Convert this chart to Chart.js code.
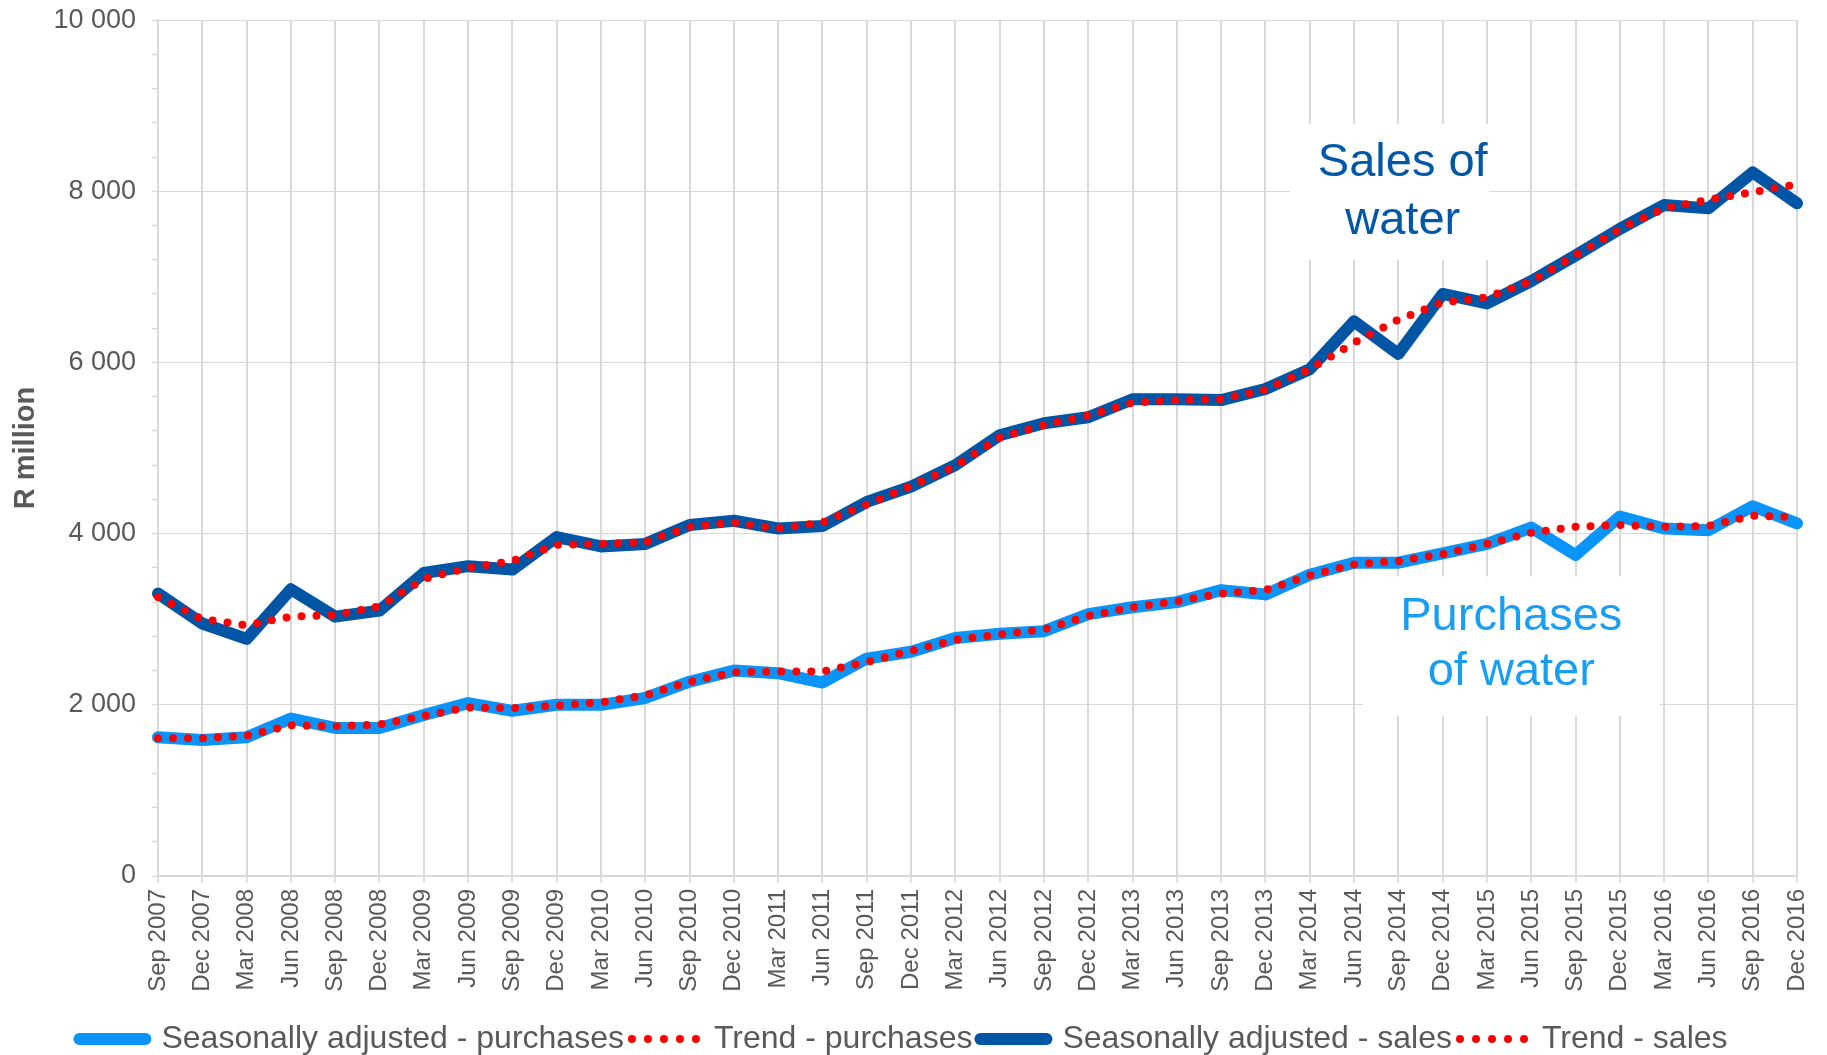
<!DOCTYPE html>
<html>
<head>
<meta charset="utf-8">
<title>Sales and purchases of water</title>
<script src="https://cdn.jsdelivr.net/npm/chart.js@4.4.1/dist/chart.umd.min.js"></script>
<style>
  body { margin: 0; background: #fff; }
  #wrap { width: 1827px; height: 1055px; position: relative; }
</style>
</head>
<body>
<div id="wrap"><canvas id="waterChart"></canvas></div>
<script>
// quarters on the x axis
var quarters = ['Sep 2007', 'Dec 2007',
  'Mar 2008', 'Jun 2008', 'Sep 2008', 'Dec 2008',
  'Mar 2009', 'Jun 2009', 'Sep 2009', 'Dec 2009',
  'Mar 2010', 'Jun 2010', 'Sep 2010', 'Dec 2010',
  'Mar 2011', 'Jun 2011', 'Sep 2011', 'Dec 2011',
  'Mar 2012', 'Jun 2012', 'Sep 2012', 'Dec 2012',
  'Mar 2013', 'Jun 2013', 'Sep 2013', 'Dec 2013',
  'Mar 2014', 'Jun 2014', 'Sep 2014', 'Dec 2014',
  'Mar 2015', 'Jun 2015', 'Sep 2015', 'Dec 2015',
  'Mar 2016', 'Jun 2016', 'Sep 2016', 'Dec 2016'];

// R million
var purchasesSA = [1620, 1590, 1620, 1840, 1730, 1730, 1880, 2020, 1930, 2000, 2000, 2080, 2270, 2400, 2370, 2260, 2540, 2620, 2780, 2830, 2860, 3060, 3140, 3200, 3340, 3290, 3520, 3660, 3660, 3770, 3880, 4070, 3750, 4200, 4060, 4040, 4320, 4120];
var purchasesTrend = [1610, 1610, 1640, 1760, 1750, 1770, 1870, 1970, 1960, 1990, 2030, 2110, 2270, 2380, 2390, 2390, 2500, 2630, 2760, 2820, 2880, 3040, 3140, 3210, 3300, 3340, 3510, 3640, 3680, 3760, 3880, 4010, 4080, 4100, 4080, 4090, 4210, 4190];
var salesSA = [3300, 2950, 2770, 3350, 3030, 3100, 3540, 3620, 3580, 3960, 3850, 3880, 4100, 4150, 4060, 4090, 4370, 4550, 4800, 5150, 5290, 5360, 5570, 5570, 5560, 5690, 5920, 6480, 6100, 6800, 6690, 6950, 7250, 7560, 7840, 7800, 8220, 7860];
var salesTrend = [3260, 3000, 2930, 3030, 3050, 3150, 3470, 3600, 3680, 3870, 3880, 3900, 4080, 4130, 4060, 4130, 4340, 4560, 4790, 5120, 5270, 5380, 5530, 5560, 5570, 5680, 5920, 6230, 6500, 6700, 6760, 6950, 7250, 7560, 7800, 7900, 7990, 8080];

var yTicks = [0, 2000, 4000, 6000, 8000, 10000];

var FONT = 'Arial, "Liberation Sans", sans-serif';
var GREY = '#595959';
var GRID = '#D9D9D9';

function spaced(v) {
  return String(v).replace(/\B(?=(\d{3})+(?!\d))/g, ' ');
}

// labels sitting on white boxes inside the plot
var notes = [
  { lines: ['Sales of', 'water'], color: '#0058A6', x: 28.1, y: [8330, 7650], box: [25.55, 30.05, 8790, 7200] },
  { lines: ['Purchases', 'of water'], color: '#1A9EF2', x: 30.55, y: [3030, 2380], box: [27.2, 33.9, 3500, 1870] }
];

var notesPlugin = {
  id: 'notes',
  beforeDatasetsDraw: function(chart) {
    var ctx = chart.ctx, xs = chart.scales.x, ys = chart.scales.y;
    ctx.save();
    notes.forEach(function(n) {
      var x1 = xs.getPixelForValue(n.box[0]), x2 = xs.getPixelForValue(n.box[1]);
      var y1 = ys.getPixelForValue(n.box[2]), y2 = ys.getPixelForValue(n.box[3]);
      ctx.fillStyle = '#fff';
      ctx.fillRect(x1, y1, x2 - x1, y2 - y1);
      ctx.fillStyle = n.color;
      ctx.font = '47px ' + FONT;
      ctx.textAlign = 'center';
      ctx.textBaseline = 'middle';
      n.lines.forEach(function(t, i) {
        ctx.fillText(t, xs.getPixelForValue(n.x), ys.getPixelForValue(n.y[i]));
      });
    });
    ctx.restore();
  }
};

function saLine(label, data, color) {
  return {
    label: label, data: data, borderColor: color, backgroundColor: color,
    borderWidth: 12, borderCapStyle: 'round', borderJoinStyle: 'round',
    pointRadius: 0, tension: 0, fill: false, order: 1
  };
}
function trendLine(label, data) {
  return {
    label: label, data: data, borderColor: '#FF0000', backgroundColor: '#FF0000',
    borderWidth: 8, borderDash: [0, 15], borderCapStyle: 'round',
    pointRadius: 0, tension: 0, fill: false, order: 0
  };
}

// legend swatches: same line style as the series
function legendLabels(chart) {
  var items = Chart.defaults.plugins.legend.labels.generateLabels(chart);
  items.forEach(function(it) {
    var ds = chart.data.datasets[it.datasetIndex];
    it.pointStyle = 'line';
    it.strokeStyle = ds.borderColor;
    it.lineWidth = ds.borderDash ? 8 : 12;
    it.lineDash = ds.borderDash ? [0, 16] : [];
    it.lineCap = 'round';
  });
  return items;
}

var ctx = document.getElementById('waterChart').getContext('2d');
var waterChart = new Chart(ctx, {
  type: 'line',
  data: {
    labels: quarters,
    datasets: [
      saLine('Seasonally adjusted - purchases', purchasesSA, '#0A94FA'),
      trendLine('Trend - purchases', purchasesTrend),
      saLine('Seasonally adjusted - sales', salesSA, '#0055A4'),
      trendLine('Trend - sales', salesTrend)
    ]
  },
  plugins: [notesPlugin],
  options: {
    responsive: true,
    maintainAspectRatio: false,
    animation: false,
    layout: { padding: { top: 0, right: 20, left: 0, bottom: -10 } },
    plugins: {
      tooltip: { enabled: false },
      legend: {
        position: 'bottom',
        labels: {
          usePointStyle: true,
          pointStyleWidth: 66,
          boxHeight: 12,
          padding: 8,
          color: GREY,
          font: { family: FONT, size: 32, lineHeight: 0.5 },
          generateLabels: legendLabels,
          sort: function(a, b) { return a.datasetIndex - b.datasetIndex; }
        }
      }
    },
    scales: {
      x: {
        offset: false,
        border: { display: true, color: GRID, width: 2 },
        grid: {
          color: GRID, lineWidth: 2, borderDash: [7, 4],
          tickLength: 7, tickColor: GRID, tickWidth: 1.5, tickBorderDash: []
        },
        ticks: {
          autoSkip: false, maxRotation: 90, minRotation: 90, padding: 6,
          color: GREY, font: { family: FONT, size: 24, lineHeight: 1 }
        },
        afterFit: function(scale) { scale.height = 139; }
      },
      y: {
        min: 0, max: 10000,
        border: { display: true, color: GRID, width: 2 },
        grid: {
          color: function(c) { return c.tick && yTicks.indexOf(c.tick.value) >= 0 ? GRID : 'rgba(0,0,0,0)'; },
          lineWidth: 1, borderDash: [4, 3],
          tickLength: 6, tickColor: GRID, tickWidth: 1.5, tickBorderDash: []
        },
        ticks: {
          stepSize: 400, autoSkip: false, padding: 16,
          color: GREY, font: { family: FONT, size: 27, lineHeight: 0.3 },
          callback: function(v) { return yTicks.indexOf(v) >= 0 ? spaced(v) : ''; }
        },
        title: {
          display: true, text: 'R million', color: GREY,
          font: { family: FONT, size: 29, weight: 'bold' },
          padding: { top: 9, bottom: 0 }
        },
        afterFit: function(scale) { scale.width = 158; }
      }
    }
  }
});
</script>
</body>
</html>
